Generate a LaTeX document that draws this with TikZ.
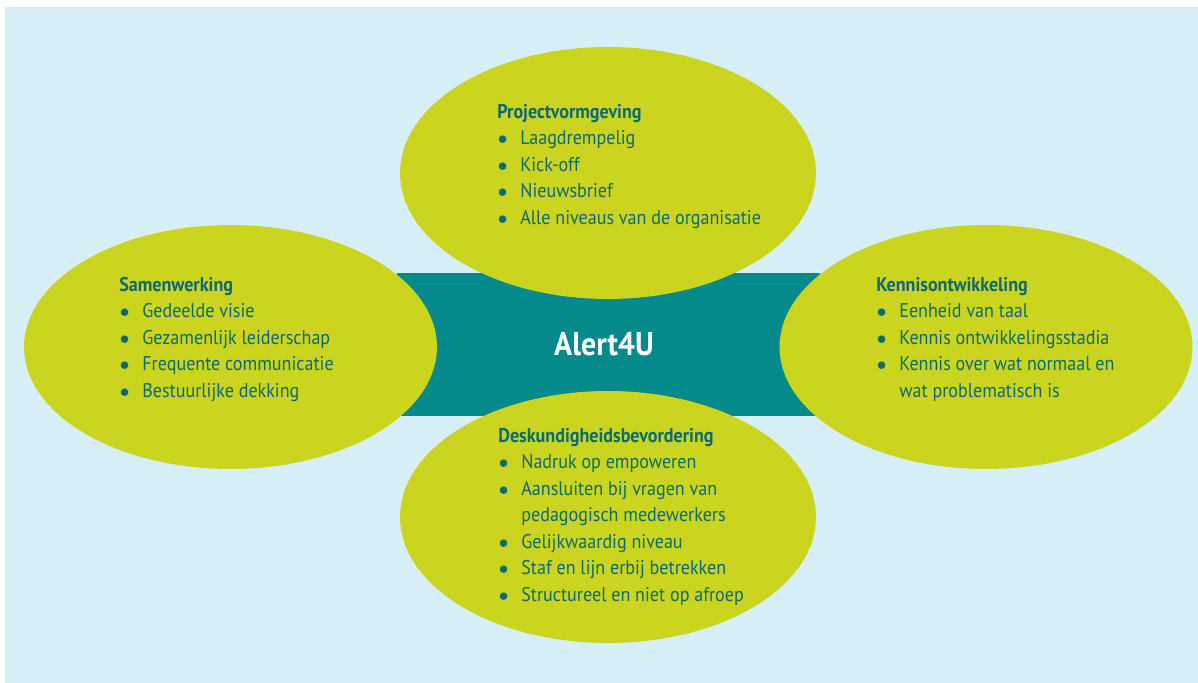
\documentclass[tikz,border=0pt]{standalone}
\usepackage{fontspec}
\setmainfont{PT Sans}[FakeStretch=0.91]
\usetikzlibrary{shapes.geometric}

\definecolor{bgblue}{HTML}{D7EFF6}
\definecolor{bandteal}{HTML}{058A8C}
\definecolor{blobgreen}{HTML}{CBD41F}
\definecolor{inkteal}{HTML}{0B6A70}

\tikzset{
    blob/.style={ellipse, fill=blobgreen, inner sep=0pt, minimum width=8.26cm, minimum height=4.88cm},
    tallblob/.style={blob, minimum width=8.32cm, minimum height=5.04cm},
    itemlist/.style={anchor=north west, align=left, inner sep=0pt, text=inkteal,
        font=\fontsize{11.3}{15.1}\selectfont},
}
% heading line and bullet with a fixed indent
\newcommand{\hd}[1]{\strut\textbf{#1}}
\newcommand{\itm}{\makebox[0.46cm][l]{\hspace{0.01cm}$\bullet$}}
\newcommand{\ind}{\hspace*{0.46cm}}

\begin{document}
\begin{tikzpicture}[x=0.02cm, y=-0.02cm]
        \useasboundingbox (0,0) rectangle (1198,683);
        \fill[bgblue] (5,7) rectangle (1198,683);

        % middle band
        \node[fill=bandteal, inner sep=0pt, minimum width=8.46cm, minimum height=2.86cm] (band) at (608.5,344.5) {};

        \node[blob] (samen) at (230.5,347) {};
        \node[blob] (kennis) at (986,347) {};
        \node[tallblob] (project) at (608,173) {};
        \node[tallblob] (deskundig) at (608,517) {};

        \node[text=white, font=\fontsize{18.7}{22}\selectfont\bfseries, anchor=base] (alert) at (604,355) {Alert4U};

        \node[itemlist] (projecttxt) at (497,99.4) {\hd{Projectvormgeving}\\
            \itm Laagdrempelig\\
            \itm Kick-off\\
            \itm Nieuwsbrief\\
            \itm Alle niveaus van de organisatie};

        \node[itemlist] (samentxt) at (119,272.4) {\hd{Samenwerking}\\
            \itm Gedeelde visie\\
            \itm Gezamenlijk leiderschap\\
            \itm Frequente communicatie\\
            \itm Bestuurlijke dekking};

        \node[itemlist] (kennistxt) at (876,272.4) {\hd{Kennisontwikkeling}\\
            \itm Eenheid van taal\\
            \itm Kennis ontwikkelingsstadia\\
            \itm Kennis over wat normaal en\\
            \ind wat problematisch is};

        \node[itemlist] (deskundigtxt) at (498,423.4) {\hd{Deskundigheidsbevordering}\\
            \itm Nadruk op empoweren\\
            \itm Aansluiten bij vragen van\\
            \ind pedagogisch medewerkers\\
            \itm Gelijkwaardig niveau\\
            \itm Staf en lijn erbij betrekken\\
            \itm Structureel en niet op afroep};

    \end{tikzpicture}
\end{document}
